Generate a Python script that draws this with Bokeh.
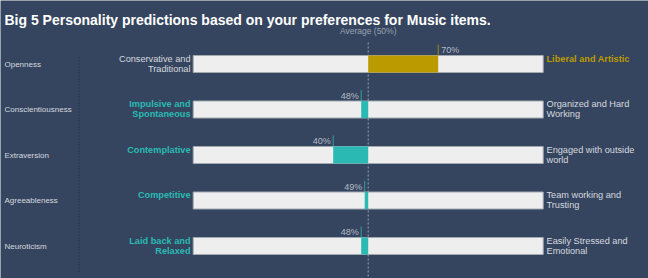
from bokeh.plotting import figure
from bokeh.models import Range1d, ColumnDataSource
from bokeh.core.properties import value
from bokeh.embed import file_html
from bokeh.resources import INLINE

# ---- data ----
traits = ["Openness", "Conscientiousness", "Extraversion", "Agreeableness", "Neuroticism"]
scores = [70, 48, 40, 49, 48]
low_labels = ["Conservative and\nTraditional", "Impulsive and\nSpontaneous", "Contemplative",
              "Competitive", "Laid back and\nRelaxed"]
high_labels = ["Liberal and Artistic", "Organized and Hard\nWorking", "Engaged with outside\nworld",
               "Team working and\nTrusting", "Easily Stressed and\nEmotional"]
average = 50
title_text = "Big 5 Personality predictions based on your preferences for Music items."
avg_text = "Average (50%)"

# ---- style ----
BG = "#35455f"
TRACK = "#eeeeee"
TEAL = "#2bbab3"
GOLD = "#bb9a00"
TXT = "#d5d9df"
SUB = "#b4bac4"
FONT = "Liberation Sans"

W, H = 648, 278
X0_PX, X100_PX = 192.7, 542.7
PXU = (X100_PX - X0_PX) / 100.0          # pixels per score unit
ROW0_PX, ROW_PX = 63.5, 45.5              # first row centre and row pitch (pixels)
BAR_PX = 17.0

def ux(px):
    return (px - X0_PX) / PXU

def uy(px):
    return (px - ROW0_PX) / ROW_PX

p = figure(width=W, height=H, output_backend="svg", toolbar_location=None,
           x_range=Range1d(ux(0), ux(W)), y_range=Range1d(uy(H), uy(0)),
           min_border=0, background_fill_color=BG, border_fill_color=BG)
p.axis.visible = False
p.grid.visible = False
p.outline_line_color = None

rows = list(range(len(traits)))
bh = BAR_PX / ROW_PX

# separators
p.segment(x0=[ux(78.7)], y0=[uy(57)], x1=[ux(78.7)], y1=[uy(271)],
          line_color="#1e2a3a", line_width=1, line_dash="1 2")
p.segment(x0=[average], y0=[uy(42)], x1=[average], y1=[uy(H)],
          line_color="#9aa3b2", line_width=1, line_dash="2 2")

# tracks
p.hbar(y=rows, left=0, right=100, height=bh, fill_color=TRACK,
       line_color="#a3a9b1", line_width=1)

# value bars
colors = [GOLD if s > average else TEAL for s in scores]
p.hbar(y=rows, left=average, right=scores, height=bh, fill_color=colors, line_color=None)

# tick lines above value ends
tick_top = [r - bh / 2 - 11 / ROW_PX for r in rows]
tick_bot = [r - bh / 2 for r in rows]
p.segment(x0=scores, y0=tick_bot, x1=scores, y1=tick_top, line_color=colors,
          line_alpha=0.8, line_width=1)

# value labels
vx = [s + (3 / PXU if s > average else -2.5 / PXU) for s in scores]
va = ["left" if s > average else "right" for s in scores]
vy = [r - bh / 2 - 5.5 / ROW_PX for r in rows]
p.text(x=vx, y=vy, text=[f"{s}%" for s in scores], text_align=va, text_baseline="middle",
       text_color=SUB, text_font=value(FONT), text_font_size="9px")

# trait names
p.text(x=[ux(4)] * len(rows), y=rows, text=traits, text_align="left", text_baseline="middle",
       text_color=TXT, text_font=value(FONT), text_font_size="8px")

# descriptors
def lines(labels, highlight):
    ys, ts, hs = [], [], []
    for r, lab, hi in zip(rows, labels, highlight):
        for j, ln in enumerate(lab.split("\n")):
            ys.append(r - bh / 2 + (3.3 + 10 * j) / ROW_PX)
            ts.append(ln)
            hs.append(hi)
    return ys, ts, hs

low_hi = [s < average for s in scores]
high_hi = [s > average for s in scores]

for labels, hi_flags, xpos, align in [(low_labels, low_hi, ux(190), "right"),
                                      (high_labels, high_hi, ux(546), "left")]:
    ys, ts, hs = lines(labels, hi_flags)
    for flag in (False, True):
        sel = [k for k in range(len(ts)) if hs[k] == flag]
        if not sel:
            continue
        if flag:
            col = [(GOLD if align == "left" else TEAL) for _ in sel]
        else:
            col = [TXT for _ in sel]
        src = ColumnDataSource(dict(x=[xpos] * len(sel), y=[ys[k] for k in sel],
                                    t=[ts[k] for k in sel], c=col))
        p.text(x="x", y="y", text="t", source=src, text_align=align, text_baseline="middle",
               text_color="c", text_font=value(FONT),
               text_font_size="9.2px",
               text_font_style="bold" if flag else "normal")

# title and average caption
p.text(x=[ux(4)], y=[uy(19)], text=[title_text], text_align="left", text_baseline="middle",
       text_color="#ffffff", text_font=value(FONT), text_font_size="14px",
       text_font_style="bold")
p.text(x=[average], y=[uy(30)], text=[avg_text], text_align="center", text_baseline="middle",
       text_color="#9aa3b2", text_font=value(FONT), text_font_size="8.5px")

open("out.html", "w").write(file_html(p, INLINE))
